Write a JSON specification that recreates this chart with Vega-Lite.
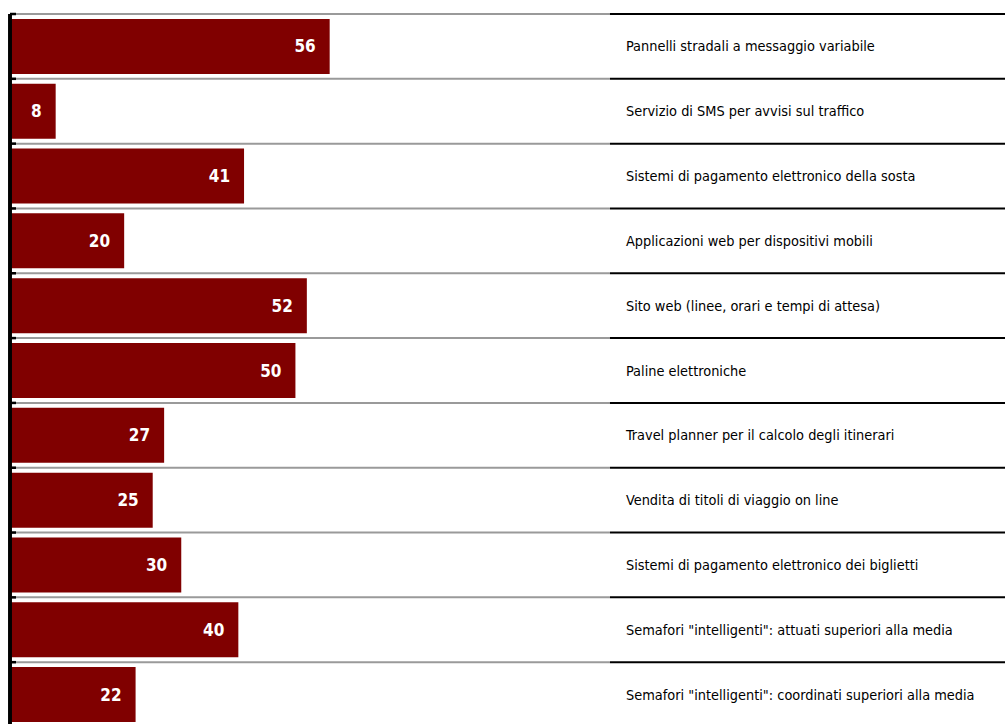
{
  "$schema": "https://vega.github.io/schema/vega-lite/v6.json",
  "width": 995,
  "height": 713,
  "padding": {"left": 10, "top": 14, "right": 0, "bottom": 0},
  "autosize": {"type": "none"},
  "background": "white",
  "config": {"view": {"stroke": null}},
  "data": {
    "values": [
      {"cat": "Pannelli stradali a messaggio variabile", "v": 56},
      {"cat": "Servizio di SMS per avvisi sul traffico", "v": 8},
      {"cat": "Sistemi di pagamento elettronico della sosta", "v": 41},
      {"cat": "Applicazioni web per dispositivi mobili", "v": 20},
      {"cat": "Sito web (linee, orari e tempi di attesa)", "v": 52},
      {"cat": "Paline elettroniche", "v": 50},
      {"cat": "Travel planner per il calcolo degli itinerari", "v": 27},
      {"cat": "Vendita di titoli di viaggio on line", "v": 25},
      {"cat": "Sistemi di pagamento elettronico dei biglietti", "v": 30},
      {"cat": "Semafori \"intelligenti\": attuati superiori alla media", "v": 40},
      {"cat": "Semafori \"intelligenti\": coordinati superiori alla media", "v": 22}
    ]
  },
  "layer": [
    {
      "mark": {"type": "rule", "color": "#9a9a9a", "strokeWidth": 2},
      "encoding": {
        "y": {"field": "cat", "type": "nominal", "sort": null, "bandPosition": 0, "scale": {"paddingInner": 0, "paddingOuter": 0}, "axis": null},
        "x": {"datum": 0, "type": "quantitative", "scale": {"domain": [0, 174.3], "nice": false}, "axis": null},
        "x2": {"datum": 105.1}
      }
    },
    {
      "mark": {"type": "rule", "color": "#000000", "strokeWidth": 2},
      "encoding": {
        "y": {"field": "cat", "type": "nominal", "sort": null, "bandPosition": 0},
        "x": {"datum": 105.1, "type": "quantitative"},
        "x2": {"datum": 174.3}
      }
    },
    {
      "mark": {"type": "bar", "color": "#800000", "size": 55},
      "encoding": {
        "y": {"field": "cat", "type": "nominal", "sort": null},
        "x": {"field": "v", "type": "quantitative"}
      }
    },
    {
      "mark": {"type": "rule", "color": "#000000", "strokeWidth": 2.5},
      "encoding": {
        "y": {"field": "cat", "type": "nominal", "sort": null, "bandPosition": 0},
        "x": {"datum": 0, "type": "quantitative"},
        "x2": {"datum": 1.05}
      }
    },
    {
      "mark": {"type": "rule", "color": "#000000", "strokeWidth": 2.5},
      "encoding": {
        "x": {"datum": 0, "type": "quantitative"}
      }
    },
    {
      "mark": {"type": "text", "align": "right", "baseline": "middle", "dx": -14, "dy": 1, "color": "white", "font": "'DejaVu Sans Condensed', 'Liberation Sans', sans-serif", "fontWeight": "bold", "fontSize": 17},
      "encoding": {
        "y": {"field": "cat", "type": "nominal", "sort": null},
        "x": {"field": "v", "type": "quantitative"},
        "text": {"field": "v", "type": "quantitative"}
      }
    },
    {
      "mark": {"type": "text", "align": "left", "baseline": "middle", "dy": 1, "color": "#000000", "font": "'DejaVu Sans Condensed', 'Liberation Sans', sans-serif", "fontSize": 14.4},
      "encoding": {
        "y": {"field": "cat", "type": "nominal", "sort": null},
        "x": {"datum": 107.9, "type": "quantitative"},
        "text": {"field": "cat", "type": "nominal"}
      }
    }
  ]
}
